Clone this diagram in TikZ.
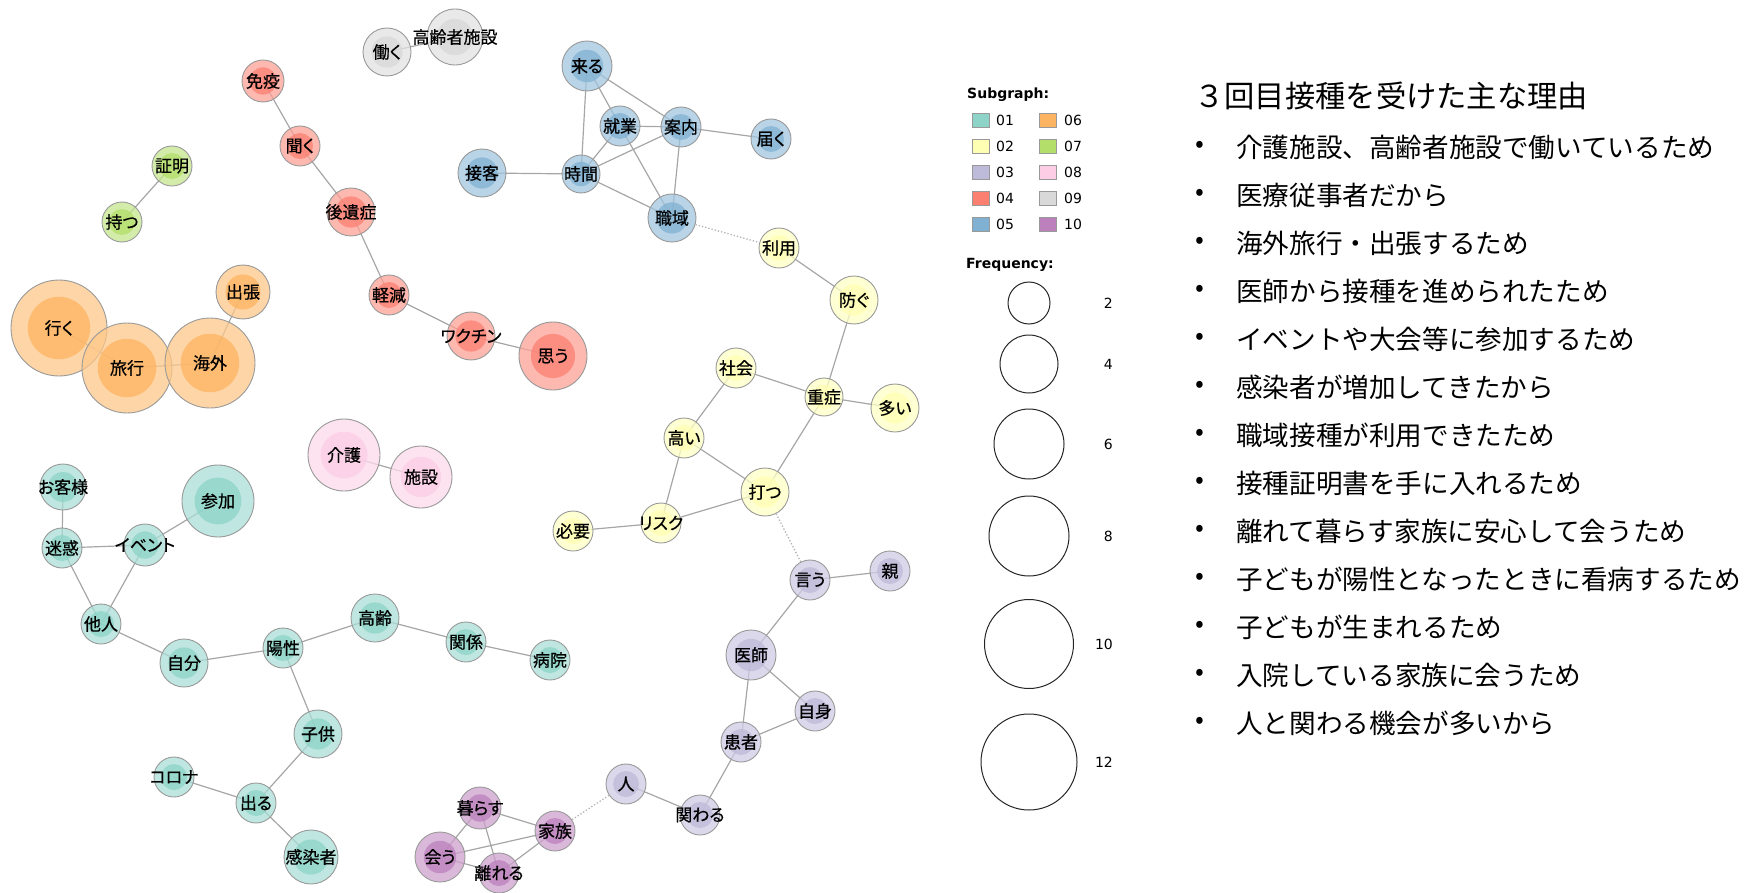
\documentclass[tikz,border=0pt]{standalone}
\usepackage{fontspec}
\setmainfont{Noto Sans CJK JP}
\newfontfamily\wordfont[RawFeature=+palt,FakeBold=0.6]{Noto Sans CJK JP}
\newfontfamily\legfont{DejaVu Sans}
\usetikzlibrary{backgrounds}
\definecolor{g01}{HTML}{8DD3C7}
\definecolor{g02}{HTML}{FFFFB3}
\definecolor{g03}{HTML}{BEBADA}
\definecolor{g04}{HTML}{FB8072}
\definecolor{g05}{HTML}{80B1D3}
\definecolor{g06}{HTML}{FDB462}
\definecolor{g07}{HTML}{B3DE69}
\definecolor{g08}{HTML}{FCCDE5}
\definecolor{g09}{HTML}{D9D9D9}
\definecolor{g10}{HTML}{BC80BD}

\begin{document}
\begin{tikzpicture}[x=1pt,y=-1pt,
  kw/.style 2 args={circle,draw=gray!80,line width=0.9pt,fill=#1!75,fill opacity=0.75,
    text opacity=1,minimum size=2*#2pt,inner sep=0pt,font=\wordfont\fontsize{17}{17}\selectfont,
    execute at begin node={\hbox to 0pt\bgroup\hss},execute at end node={\hss\egroup},
    path picture={\fill[#1] (path picture bounding box.center) circle[radius=0.65*#2pt];}},
  link/.style={draw=gray!70,line width=1.2pt},
  weak/.style={draw=gray!60,line width=1.3pt,dotted},
  key/.style={draw=gray!80,line width=0.8pt,minimum width=17pt,minimum height=14pt,inner sep=0pt},
  leg/.style={font=\legfont\fontsize{14}{14}\selectfont,inner sep=0pt},
  reason/.style={anchor=west,inner sep=0pt,font=\fontsize{26.6}{26.6}\selectfont}]
  \useasboundingbox (0,0) rectangle (1747,893);

  \node[kw={g09}{24}] (hataraku) at (387,52) {働く};
  \node[kw={g09}{28}] (koureisha) at (455,37) {高齢者施設};

  \node[kw={g04}{21}] (meneki) at (263,81) {免疫};
  \node[kw={g04}{20}] (kiku) at (300,146) {聞く};
  \node[kw={g04}{24}] (kouisho) at (351,212) {後遺症};
  \node[kw={g04}{20}] (keigen) at (389,295) {軽減};
  \node[kw={g04}{24}] (vaccine) at (471,336) {ワクチン};
  \node[kw={g04}{34}] (omou) at (553,356) {思う};

  \node[kw={g07}{20}] (shoumei) at (172,166) {証明};
  \node[kw={g07}{20}] (motsu) at (122,222) {持つ};

  \node[kw={g06}{48}] (iku) at (59,328) {行く};
  \node[kw={g06}{45}] (ryokou) at (127,368) {旅行};
  \node[kw={g06}{45}] (kaigai) at (210,363) {海外};
  \node[kw={g06}{27}] (shutchou) at (243,292) {出張};

  \node[kw={g05}{25}] (kuru) at (587,66) {来る};
  \node[kw={g05}{20}] (shugyou) at (620,126) {就業};
  \node[kw={g05}{20}] (annai) at (681,127) {案内};
  \node[kw={g05}{20}] (todoku) at (771,139) {届く};
  \node[kw={g05}{24}] (sekkyaku) at (482,173) {接客};
  \node[kw={g05}{19}] (jikan) at (581,174) {時間};
  \node[kw={g05}{24}] (shokuiki) at (672,218) {職域};

  \node[kw={g02}{20}] (riyou) at (779,248) {利用};
  \node[kw={g02}{24}] (fusegu) at (854,300) {防ぐ};
  \node[kw={g02}{20}] (shakai) at (736,368) {社会};
  \node[kw={g02}{19}] (jushou) at (824,397) {重症};
  \node[kw={g02}{24}] (ooi) at (895,408) {多い};
  \node[kw={g02}{20}] (takai) at (684,438) {高い};
  \node[kw={g02}{24}] (utsu) at (765,492) {打つ};
  \node[kw={g02}{20}] (risk) at (661,523) {リスク};
  \node[kw={g02}{20}] (hitsuyou) at (573,531) {必要};

  \node[kw={g03}{20}] (iu) at (810,580) {言う};
  \node[kw={g03}{20}] (oya) at (890,571) {親};
  \node[kw={g03}{25}] (ishi) at (751,655) {医師};
  \node[kw={g03}{20}] (jishin) at (815,711) {自身};
  \node[kw={g03}{20}] (kanja) at (741,742) {患者};
  \node[kw={g03}{20}] (hito) at (626,784) {人};
  \node[kw={g03}{20}] (kakawaru) at (700,815) {関わる};

  \node[kw={g10}{21}] (kurasu) at (480,808) {暮らす};
  \node[kw={g10}{20}] (kazoku) at (555,831) {家族};
  \node[kw={g10}{25}] (au) at (440,857) {会う};
  \node[kw={g10}{20}] (hanareru) at (499,873) {離れる};

  \node[kw={g08}{36}] (kaigo) at (344,455) {介護};
  \node[kw={g08}{31}] (shisetsu) at (421,477) {施設};

  \node[kw={g01}{23}] (okyaku) at (63,487) {お客様};
  \node[kw={g01}{36}] (sanka) at (218,501) {参加};
  \node[kw={g01}{20}] (meiwaku) at (62,548) {迷惑};
  \node[kw={g01}{21}] (event) at (145,545) {イベント};
  \node[kw={g01}{20}] (tanin) at (101,624) {他人};
  \node[kw={g01}{24}] (jibun) at (184,663) {自分};
  \node[kw={g01}{20}] (yousei) at (283,648) {陽性};
  \node[kw={g01}{24}] (kourei) at (375,618) {高齢};
  \node[kw={g01}{20}] (kankei) at (466,642) {関係};
  \node[kw={g01}{20}] (byouin) at (550,660) {病院};
  \node[kw={g01}{24}] (kodomo) at (318,734) {子供};
  \node[kw={g01}{20}] (corona) at (174,777) {コロナ};
  \node[kw={g01}{20}] (deru) at (256,803) {出る};
  \node[kw={g01}{27}] (kansensha) at (311,857) {感染者};

  \begin{pgfonlayer}{background}
    \draw[link] (hataraku.center) -- (koureisha.center)
      (meneki.center) -- (kiku.center) -- (kouisho.center) -- (keigen.center)
        -- (vaccine.center) -- (omou.center)
      (shoumei.center) -- (motsu.center)
      (iku.center) -- (ryokou.center) -- (kaigai.center) -- (shutchou.center)
      (kuru.center) -- (jikan.center) (kuru.center) -- (shugyou.center)
      (kuru.center) -- (annai.center) (shugyou.center) -- (annai.center)
      (shugyou.center) -- (jikan.center) (shugyou.center) -- (shokuiki.center)
      (annai.center) -- (jikan.center) (annai.center) -- (shokuiki.center)
      (annai.center) -- (todoku.center) (sekkyaku.center) -- (jikan.center)
      (jikan.center) -- (shokuiki.center)
      (riyou.center) -- (fusegu.center) -- (jushou.center) -- (ooi.center)
      (shakai.center) -- (jushou.center) -- (utsu.center)
      (shakai.center) -- (takai.center) -- (utsu.center) -- (risk.center)
      (takai.center) -- (risk.center) -- (hitsuyou.center)
      (oya.center) -- (iu.center) -- (ishi.center) -- (jishin.center) -- (kanja.center)
      (ishi.center) -- (kanja.center) -- (kakawaru.center) -- (hito.center)
      (kazoku.center) -- (kurasu.center) -- (au.center) -- (kazoku.center)
      (kurasu.center) -- (hanareru.center) (au.center) -- (hanareru.center)
        -- (kazoku.center)
      (kaigo.center) -- (shisetsu.center)
      (okyaku.center) -- (meiwaku.center) -- (event.center) -- (sanka.center)
      (meiwaku.center) -- (tanin.center) -- (event.center)
      (tanin.center) -- (jibun.center) -- (yousei.center) -- (kourei.center)
        -- (kankei.center) -- (byouin.center)
      (yousei.center) -- (kodomo.center) -- (deru.center) -- (kansensha.center)
      (corona.center) -- (deru.center);
  \end{pgfonlayer}
  \draw[weak] (shokuiki) -- (riyou) (utsu) -- (iu) (hito) -- (kazoku);

  \node[anchor=west,leg,font=\legfont\bfseries\fontsize{14}{14}\selectfont] (subg) at (967,95) {Subgraph:};
  \foreach \g/\row in {01/0,02/1,03/2,04/3,05/4} {
    \node[key,fill=g\g] (k\g) at (981,120+26*\row) {};
    \node[leg,anchor=west] (l\g) at (996,120+26*\row) {\g};
  }
  \foreach \g/\row in {06/0,07/1,08/2,09/3,10/4} {
    \node[key,fill=g\g] (k\g) at (1048,120+26*\row) {};
    \node[leg,anchor=west] (l\g) at (1064,120+26*\row) {\g};
  }
  \node[anchor=west,leg,font=\legfont\bfseries\fontsize{14}{14}\selectfont] (freq) at (966,265) {Frequency:};
  \foreach \f/\y/\r in {2/303/21,4/364/29,6/444/35,8/536/40,10/644/44.5,12/762/48} {
    \node[circle,draw=gray!30!black,line width=1pt,minimum size=\r*2pt,inner sep=0pt] (f\f) at (1029,\y) {};
    \node[leg,anchor=east] (n\f) at (1113,\y) {\f};
  }

  \node[anchor=west,inner sep=0pt,font=\fontsize{30.3}{30.3}\selectfont] (title) at (1194,96) {３回目接種を受けた主な理由};
  \foreach \t [count=\i from 0] in {介護施設、高齢者施設で働いているため,医療従事者だから,
      海外旅行・出張するため,医師から接種を進められたため,イベントや大会等に参加するため,
      感染者が増加してきたから,職域接種が利用できたため,接種証明書を手に入れるため,
      離れて暮らす家族に安心して会うため,子どもが陽性となったときに看病するため,
      子どもが生まれるため,入院している家族に会うため,人と関わる機会が多いから} {
    \node[inner sep=0pt,font=\fontsize{26}{26}\selectfont] (b\i) at (1200,147+48*\i) {•};
    \node[reason] (r\i) at (1236,147+48*\i) {\t};
  }
\end{tikzpicture}
\end{document}
